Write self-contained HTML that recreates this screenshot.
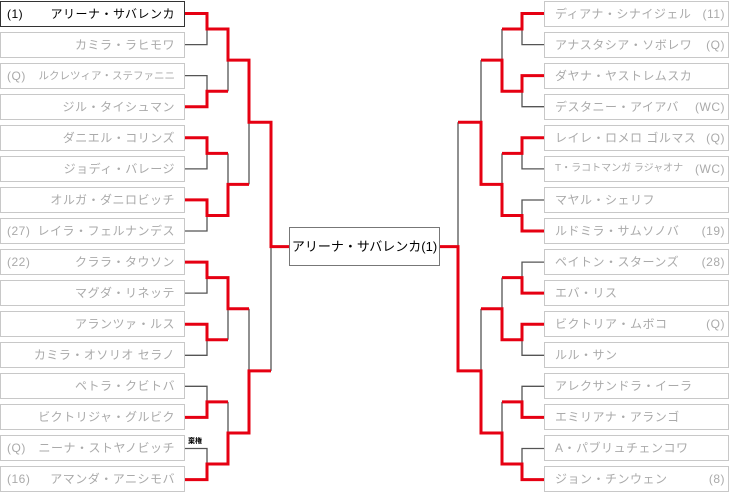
<!DOCTYPE html>
<html><head><meta charset="utf-8"><style>
html,body{margin:0;padding:0;background:#fff;width:730px;height:494px;overflow:hidden;position:relative;font-family:"Liberation Sans","Noto Sans CJK JP",sans-serif;}
.b{position:absolute;box-sizing:border-box;height:26px;width:185px;border:1px solid #c8c8c8;background:#fff;color:#aaa;font-size:12px;line-height:24px;letter-spacing:0.5px;white-space:nowrap;}
.L{left:0px;}
.R{left:544px;}
.L .s{position:absolute;left:6px;top:0}
.L .n{position:absolute;right:9px;top:0}
.R .n{position:absolute;left:10px;top:0}
.R .s{position:absolute;right:3px;top:0}
.w{border-color:#333;color:#000;}
svg{position:absolute;left:0;top:0}
.c{position:absolute;left:289px;top:227px;width:151px;height:39px;box-sizing:border-box;border:1px solid #777;background:#fff;font-size:13px;line-height:37px;text-align:center;color:#000;white-space:nowrap;}
</style></head><body>
<svg width="730" height="494">
<g fill="none" stroke="#555" stroke-width="1.3">
<path d="M185,44.6H207V29M185,75.6H207V91.2M228,91.2V60.1M185,168.9H207V153.4M228,153.4V184.4M185,231H207V215.5M249,184.4V122.3M185,293.1H207V277.6M185,355.3H207V339.8M228,339.8V308.7M185,386.3H207V401.9M228,401.9V433M185,448.5H207V464M249,308.7V370.9M271,370.9V246.6"/>
<path d="M544,44.6H522V29M502,29V60.1M481,60.1V122.3M544,106.7H522V91.2M544,168.9H522V153.4M502,153.4V184.4M544,200H522V215.5M458,122.3V246.6M544,262.1H522V277.6M502,277.6V308.7M544,355.3H522V339.8M481,308.7V370.9M544,386.3H522V401.9M502,401.9V433M544,448.5H522V464"/>
</g>
<g fill="none" stroke="#e60012" stroke-width="3">
<path d="M185,13.5H207V29H228V60.1H249V122.3H271V246.6H289"/>
<path d="M185,106.7H207V91.2H228"/>
<path d="M185,137.8H207V153.4H228"/>
<path d="M185,199.9H207V215.5H228V184.4H249"/>
<path d="M185,262.1H207V277.6H228V308.7H249"/>
<path d="M185,324.2H207V339.8H228"/>
<path d="M185,417.4H207V401.9H228"/>
<path d="M185,479.6H207V464H228V433H249V370.9H271"/>
<path d="M544,13.5H522V29H502"/>
<path d="M544,75.6H522V91.2H502V60.1H481"/>
<path d="M544,137.8H522V153.4H502"/>
<path d="M544,231H522V215.5H502V184.4H481V122.3H458"/>
<path d="M544,293.1H522V277.6H502"/>
<path d="M544,324.2H522V339.8H502V308.7H481"/>
<path d="M544,417.4H522V401.9H502"/>
<path d="M544,479.6H522V464H502V433H481V370.9H458V246.6H440"/>
</g>
<text x="188" y="443" font-size="7" font-weight="bold" fill="#000" font-family="Liberation Sans, Noto Sans CJK JP, sans-serif">棄権</text>
</svg>

<div class="b L w" style="top:1px"><span class="s">(1)</span><span class="n">アリーナ・サバレンカ</span></div>
<div class="b L" style="top:32px"><span class="n">カミラ・ラヒモワ</span></div>
<div class="b L" style="top:63px"><span class="s">(Q)</span><span class="n" style="font-size:10.5px;letter-spacing:0">ルクレツィア・ステファニニ</span></div>
<div class="b L" style="top:94px"><span class="n">ジル・タイシュマン</span></div>
<div class="b L" style="top:125px"><span class="n">ダニエル・コリンズ</span></div>
<div class="b L" style="top:156px"><span class="n">ジョディ・バレージ</span></div>
<div class="b L" style="top:187px"><span class="n">オルガ・ダニロビッチ</span></div>
<div class="b L" style="top:218px"><span class="s">(27)</span><span class="n">レイラ・フェルナンデス</span></div>
<div class="b L" style="top:249px"><span class="s">(22)</span><span class="n">クララ・タウソン</span></div>
<div class="b L" style="top:280px"><span class="n">マグダ・リネッテ</span></div>
<div class="b L" style="top:311px"><span class="n">アランツァ・ルス</span></div>
<div class="b L" style="top:342px"><span class="n">カミラ・オソリオ セラノ</span></div>
<div class="b L" style="top:373px"><span class="n">ペトラ・クビトバ</span></div>
<div class="b L" style="top:404px"><span class="n">ビクトリジャ・グルビク</span></div>
<div class="b L" style="top:435px"><span class="s">(Q)</span><span class="n">ニーナ・ストヤノビッチ</span></div>
<div class="b L" style="top:466px"><span class="s">(16)</span><span class="n">アマンダ・アニシモバ</span></div>

<div class="b R" style="top:1px"><span class="n">ディアナ・シナイジェル</span><span class="s">(11)</span></div>
<div class="b R" style="top:32px"><span class="n">アナスタシア・ソボレワ</span><span class="s">(Q)</span></div>
<div class="b R" style="top:63px"><span class="n">ダヤナ・ヤストレムスカ</span></div>
<div class="b R" style="top:94px"><span class="n">デスタニー・アイアバ</span><span class="s">(WC)</span></div>
<div class="b R" style="top:125px"><span class="n">レイレ・ロメロ ゴルマス</span><span class="s">(Q)</span></div>
<div class="b R" style="top:156px"><span class="n" style="font-size:10px;letter-spacing:0">T・ラコトマンガ ラジャオナ</span><span class="s">(WC)</span></div>
<div class="b R" style="top:187px"><span class="n">マヤル・シェリフ</span></div>
<div class="b R" style="top:218px"><span class="n">ルドミラ・サムソノバ</span><span class="s">(19)</span></div>
<div class="b R" style="top:249px"><span class="n">ペイトン・スターンズ</span><span class="s">(28)</span></div>
<div class="b R" style="top:280px"><span class="n">エバ・リス</span></div>
<div class="b R" style="top:311px"><span class="n">ビクトリア・ムボコ</span><span class="s">(Q)</span></div>
<div class="b R" style="top:342px"><span class="n">ルル・サン</span></div>
<div class="b R" style="top:373px"><span class="n">アレクサンドラ・イーラ</span></div>
<div class="b R" style="top:404px"><span class="n">エミリアナ・アランゴ</span></div>
<div class="b R" style="top:435px"><span class="n">A・パブリュチェンコワ</span></div>
<div class="b R" style="top:466px"><span class="n">ジョン・チンウェン</span><span class="s">(8)</span></div>

<div class="c">アリーナ・サバレンカ(1)</div>
</body></html>
